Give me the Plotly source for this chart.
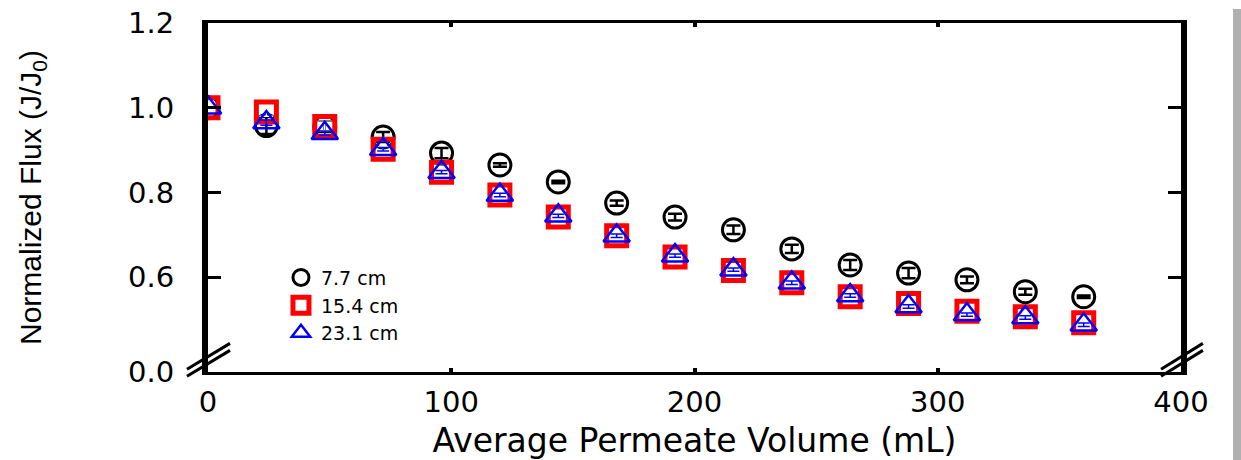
import plotly.graph_objects as go

# ---------------- data ----------------
volume_ml = [0, 24, 48, 72, 96, 120, 144, 168, 192, 216, 240, 264, 288, 312, 336, 360]

flux_7_7 = [1.000, 0.958, 0.955, 0.931, 0.893, 0.865, 0.825, 0.775, 0.742, 0.712,
            0.667, 0.629, 0.610, 0.594, 0.566, 0.554]
err_7_7 = [0.0, 0.020, 0.012, 0.012, 0.012, 0.004, 0.003, 0.006, 0.008, 0.010,
           0.010, 0.012, 0.012, 0.008, 0.007, 0.003]

flux_15_4 = [1.000, 0.990, 0.956, 0.902, 0.848, 0.794, 0.742, 0.698, 0.648, 0.616,
             0.587, 0.554, 0.538, 0.520, 0.507, 0.493]
err_15_4 = [0.0, 0.010, 0.010, 0.006, 0.006, 0.005, 0.005, 0.005, 0.006, 0.005,
            0.006, 0.005, 0.006, 0.006, 0.006, 0.006]

flux_23_1 = [1.000, 0.965, 0.940, 0.902, 0.848, 0.794, 0.745, 0.698, 0.651, 0.618,
             0.587, 0.557, 0.531, 0.512, 0.505, 0.488]
err_23_1 = [0.0, 0.006, 0.005, 0.004, 0.004, 0.004, 0.004, 0.004, 0.004, 0.004,
            0.004, 0.004, 0.004, 0.004, 0.004, 0.004]

series_names = ["7.7 cm", "15.4 cm", "23.1 cm"]

y_break_bottom = 0.3765  # bottom of broken axis, labelled 0.0
y_tickvals = [0.377, 0.6, 0.8, 1.0, 1.2]
y_ticktext = ["0.0", "0.6", "0.8", "1.0", "1.2"]
x_tickvals = [0, 100, 200, 300, 400]

FONT = "DejaVu Sans"

fig = go.Figure()

fig.add_trace(go.Scatter(
    x=volume_ml, y=flux_7_7, mode="markers", name=series_names[0],
    marker=dict(symbol="circle-open", size=22, color="black", line=dict(width=3, color="black")),
    error_y=dict(type="data", array=err_7_7, color="black", thickness=2.5, width=7),
))
fig.add_trace(go.Scatter(
    x=volume_ml, y=flux_15_4, mode="markers", name=series_names[1],
    marker=dict(symbol="square-open", size=20, color="#ff0000", line=dict(width=5, color="#ff0000")),
    error_y=dict(type="data", array=err_15_4, color="white", thickness=1.5, width=7),
))
fig.add_trace(go.Scatter(
    x=volume_ml, y=flux_23_1, mode="markers", name=series_names[2],
    marker=dict(symbol="triangle-up-open", size=23, color="#0000ff", line=dict(width=2.5, color="#0000ff")),
    error_y=dict(type="data", array=err_23_1, color="#0000ff", thickness=1.5, width=6),
))

# axis-break marks (decoration)
def brk(x0, y0, x1, y1):
    fig.add_shape(type="line", xref="x domain", yref="y domain",
                  x0=x0, y0=y0, x1=x1, y1=y1, line=dict(color="black", width=3))

for dy in (0.0, 0.02):
    brk(-0.0216, -0.012 + dy, 0.0226, 0.062 + dy)
    brk(0.9795, -0.012 + dy, 1.0225, 0.062 + dy)

# faint shadow on the right edge
fig.add_shape(type="rect", xref="paper", yref="paper", x0=(1233 - 208) / 973, x1=(1241 - 208) / 973,
              y0=-1, y1=1.04, line=dict(width=0), fillcolor="#b0b0b0", layer="below")

fig.update_layout(
    width=1241, height=460,
    margin=dict(l=208, r=60, t=23, b=88),
    paper_bgcolor="white", plot_bgcolor="white",
    font=dict(family=FONT, color="black"),
    showlegend=True,
    legend=dict(
        x=0.075, y=0.325, xanchor="left", yanchor="top",
        bgcolor="rgba(0,0,0,0)", font=dict(size=19, family=FONT, color="black"),
        itemsizing="trace", tracegroupgap=0,
    ),
    xaxis=dict(
        range=[0, 400], tickvals=x_tickvals, ticktext=[str(v) for v in x_tickvals],
        showgrid=False, zeroline=False, automargin=False,
        showline=True, linecolor="black", linewidth=3, mirror="ticks",
        ticks="inside", ticklen=4, tickwidth=4, tickcolor="black",
        tickfont=dict(size=29, family=FONT), ticklabelstandoff=2,
        title=dict(text="Average Permeate Volume (mL)", font=dict(size=33, family=FONT), standoff=21),
    ),
    yaxis=dict(
        range=[y_break_bottom, 1.2], tickvals=y_tickvals, ticktext=y_ticktext,
        showgrid=False, zeroline=False, automargin=False,
        showline=True, linecolor="black", linewidth=6, mirror="ticks",
        ticks="inside", ticklen=13, tickwidth=3, tickcolor="black",
        tickfont=dict(size=29, family=FONT), ticklabelstandoff=22,
        title=dict(text="Normalized Flux (J/J<sub>0</sub>)", font=dict(size=30, family="Liberation Sans"), standoff=80),
    ),
)

fig.write_html("out.html")
